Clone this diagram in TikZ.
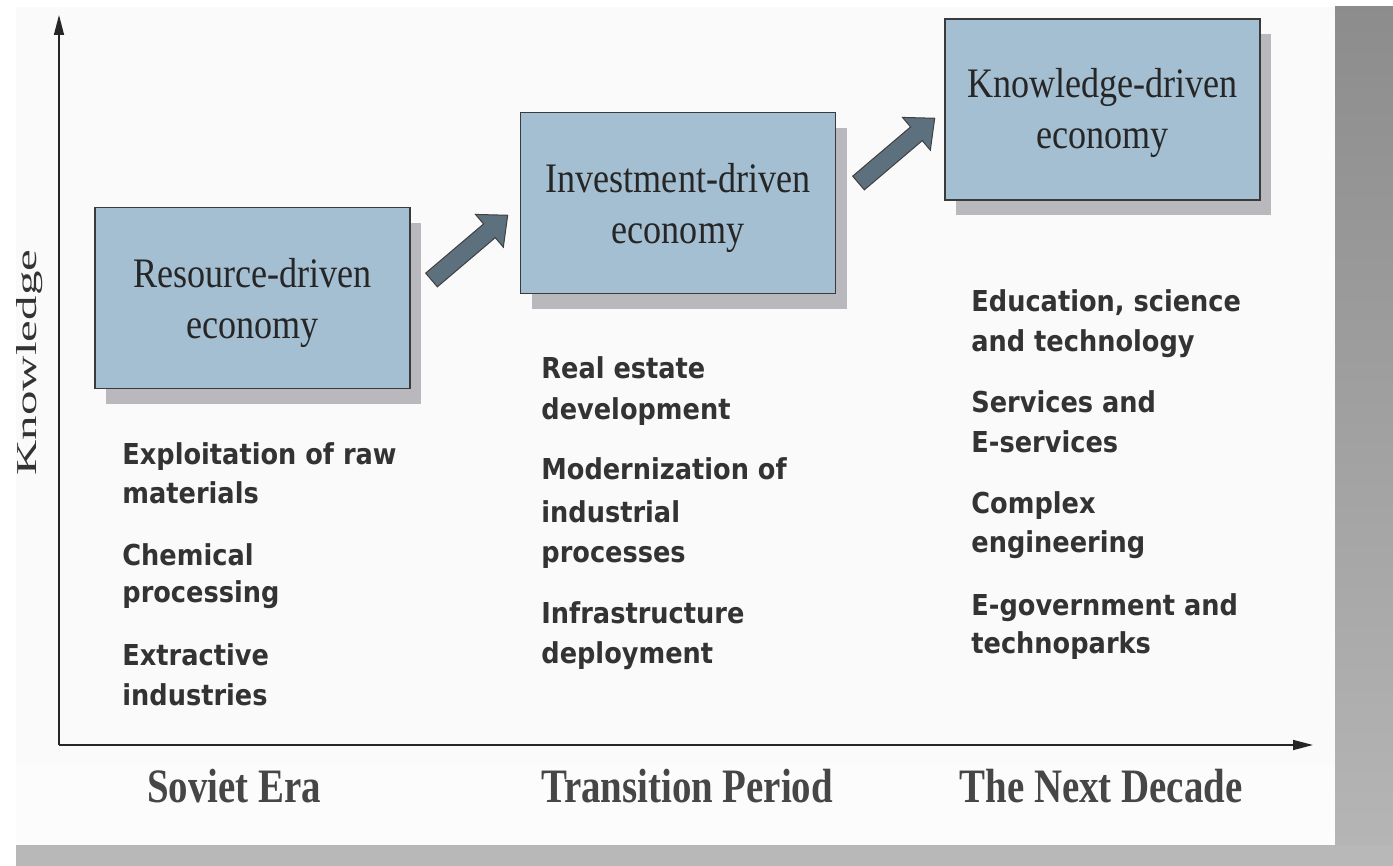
\documentclass[tikz,border=0pt]{standalone}
\usepackage{fontspec}
\usetikzlibrary{arrows.meta,shadows}
\newfontfamily\boxfont[FakeStretch=0.86]{Liberation Serif}
\newfontfamily\knowfont[FakeStretch=1.7]{Liberation Serif}
\newfontfamily\erafont[FakeStretch=0.81]{Liberation Serif}
\newfontfamily\listfont[FakeStretch=0.89]{DejaVu Sans}
\definecolor{panel}{HTML}{FAFAFA}
\definecolor{boxfill}{HTML}{A4BFD2}
\definecolor{boxline}{HTML}{3A3A3A}
\definecolor{shadowc}{HTML}{B9B9BD}
\definecolor{arrowc}{HTML}{5D707E}
\definecolor{txtc}{HTML}{333333}
\definecolor{erac}{HTML}{464646}
\definecolor{bandc}{HTML}{B8B8B8}
\begin{document}
\begin{tikzpicture}[x=0.5pt,y=-0.5pt,
  econ/.style={draw=boxline, line width=0.6pt, fill=boxfill, minimum width=157.5pt,
    minimum height=90.5pt, inner sep=0pt,
    drop shadow={shadow xshift=5.5pt, shadow yshift=-7.75pt, fill=shadowc, opacity=1}},
  econtxt/.style={inner sep=0pt, align=center, text=black!85,
    font=\boxfont\fontsize{21}{25.5}\selectfont},
  blockarrow/.style={fill=arrowc, draw=black!75, line width=0.5pt, line join=miter},
  axis/.style={draw=black!85, line width=0.75pt, -{Triangle[length=10pt,width=5pt]}},
  listtxt/.style={anchor=base west, inner sep=0pt, text=txtc,
    font=\listfont\bfseries\fontsize{14.4}{17}\selectfont},
  eratxt/.style={anchor=base, inner sep=0pt, text=erac,
    font=\erafont\bfseries\fontsize{24}{28}\selectfont}]
\useasboundingbox (0,0) rectangle (1393,866);
% background
\fill[white] (0,0) rectangle (1393,866);
\fill[panel] (16,7) rectangle (1335,765);
\fill[white!99!black] (16,765) rectangle (1335,845);
\fill[bandc] (16,845) rectangle (1393,866);
\shade[top color=black!45, bottom color=black!29] (1335,7) rectangle (1393,845);
% axes
\coordinate (O) at (59,745);
\coordinate (ytop) at (59,15);
\coordinate (xend) at (1313,745);
\draw[axis] (O) -- (ytop);
\draw[axis] (O) -- (xend);
\node[rotate=90, anchor=base, inner sep=0pt, text=txtc,
  font=\knowfont\fontsize{14.4}{17}\selectfont] (klabel) at (36,362.5) {Knowledge};
% boxes
\node[econ] (r1) at (252.5,298) {};
\node[econ] (r2) at (678,203) {};
\node[econ] (r3) at (1102.5,109.5) {};
\node[econtxt] (t1) at (252.5,303) {Resource-driven\\economy};
\node[econtxt] (t2) at (678,208) {Investment-driven\\economy};
\node[econtxt] (t3) at (1102.5,113) {Knowledge-driven\\economy};
% block arrows
\coordinate (a1s) at (431.5,280);
\coordinate (a2s) at (858.5,183);
\begin{scope}[shift={(a1s)}, rotate=40.35]
  \filldraw[blockarrow] (0,-9) -- (76,-9) -- (76,-21.5) -- (100,0) -- (76,21.5) -- (76,9) -- (0,9) -- cycle;
\end{scope}
\begin{scope}[shift={(a2s)}, rotate=40.35]
  \filldraw[blockarrow] (0,-9) -- (76,-9) -- (76,-21.5) -- (100,0) -- (76,21.5) -- (76,9) -- (0,9) -- cycle;
\end{scope}
% lists
\foreach \yy/\ltxt [count=\i] in {465/Exploitation of raw, 503/materials, 565/Chemical,
  602/processing, 665/Extractive, 705/industries}
  \node[listtxt] (c1l\i) at (122,\yy) {\ltxt};
\foreach \yy/\ltxt [count=\i] in {379/Real estate, 420/development, 480/Modernization of,
  522/industrial, 562/processes, 623/Infrastructure, 663/deployment}
  \node[listtxt] (c2l\i) at (541,\yy) {\ltxt};
\foreach \yy/\ltxt [count=\i] in {312/{Education, science}, 352/and technology, 413/Services and,
  452/E-services, 513/Complex, 552/engineering, 615/E-government and, 653/technoparks}
  \node[listtxt] (c3l\i) at (971,\yy) {\ltxt};
% era labels
\node[eratxt] (e1) at (234,802) {Soviet Era};
\node[eratxt] (e2) at (687,802) {Transition Period};
\node[eratxt] (e3) at (1101,802) {The Next Decade};
\end{tikzpicture}
\end{document}
